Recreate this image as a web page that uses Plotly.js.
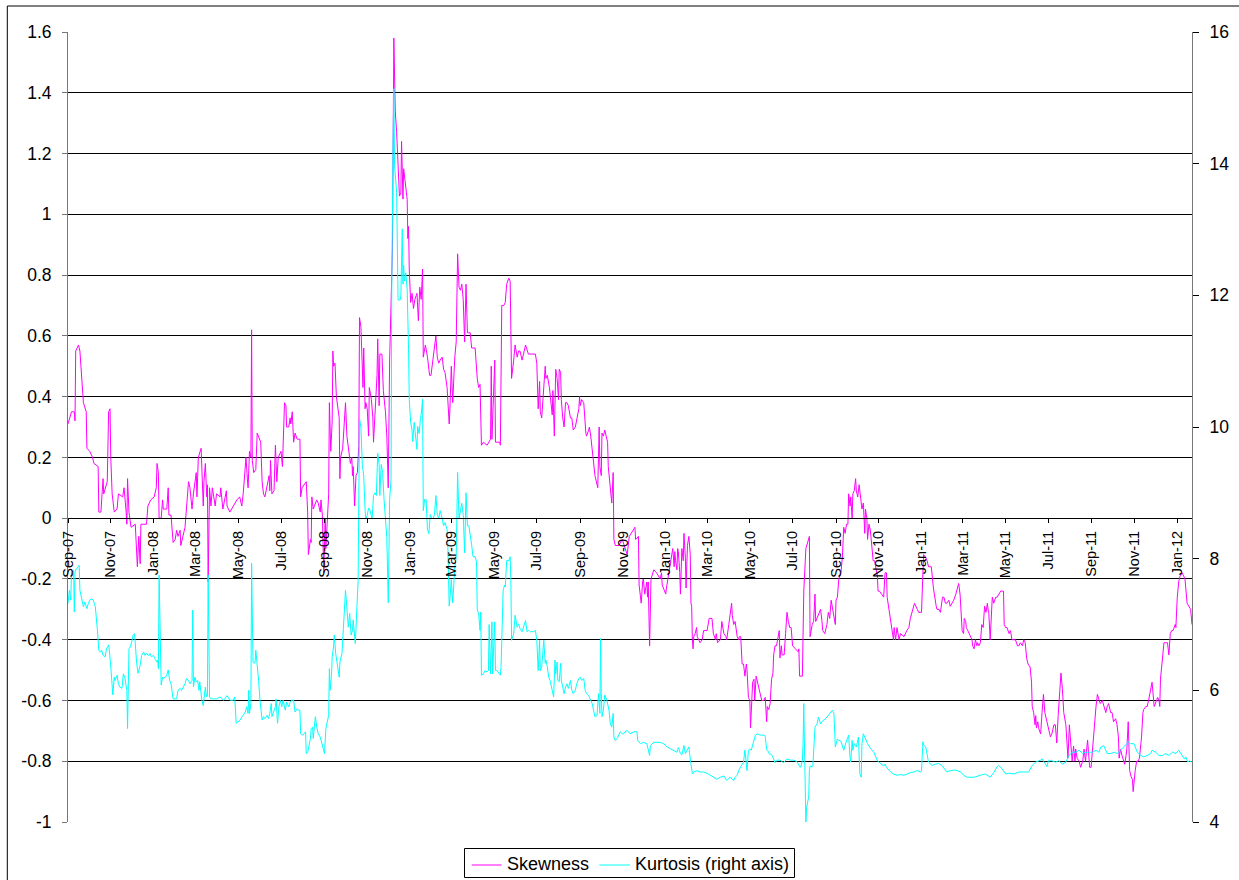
<!DOCTYPE html>
<html>
<head>
<meta charset="utf-8">
<script src="https://cdn.plot.ly/plotly-3.0.1.min.js"></script>
<style>html,body{margin:0;padding:0;background:#fff;}#chart{width:1239px;height:880px;}</style>
</head>
<body>
<div id="chart"></div>
<script>
// Day offsets counted from 2007-09-01
const skewDays = [0,5,9,10,11,15,17,20,22,26,27,31,35,37,43,44,47,50,51,56,58,60,61,63,66,70,72,78,80,83,84,85,87,90,96,99,101,103,104,112,114,118,123,126,127,129,130,133,135,136,141,143,144,147,148,150,153,155,157,160,161,165,167,168,170,172,174,177,179,181,183,184,186,190,191,193,194,196,198,199,200,202,204,206,210,212,217,218,221,226,227,231,236,241,245,248,250,253,254,256,257,259,261,262,263,265,268,270,273,275,277,279,281,284,287,288,289,291,294,296,298,300,304,306,307,309,311,312,315,317,318,320,322,324,327,331,332,334,340,342,343,346,347,348,350,355,357,360,361,363,365,367,368,370,372,373,375,377,378,379,381,383,387,388,389,392,394,396,398,400,403,405,406,407,409,411,413,415,416,418,421,422,424,425,427,429,430,433,435,436,438,441,442,444,445,448,450,453,455,456,457,459,460,463,465,467,469,471,473,475,476,478,479,481,484,485,486,487,489,491,493,495,498,500,502,504,506,507,510,513,516,518,520,523,525,527,529,531,534,536,538,541,542,544,545,547,549,551,552,554,556,558,560,561,562,564,566,568,570,572,574,576,581,584,586,588,589,590,593,598,603,604,605,609,610,616,617,619,622,624,626,629,631,633,636,638,641,643,645,648,650,653,657,664,667,669,671,673,674,676,679,681,682,684,687,689,691,692,694,696,698,700,701,703,704,706,708,710,712,714,717,719,721,724,726,729,730,731,733,736,739,740,743,744,746,749,752,755,756,758,759,761,762,764,766,768,770,771,774,776,778,779,781,786,791,798,801,809,810,814,815,818,820,821,823,826,827,828,830,831,832,836,840,845,847,848,853,854,856,858,860,863,865,866,867,869,870,871,873,874,876,878,879,881,882,884,886,888,889,890,891,892,893,895,897,898,900,902,905,907,912,913,915,919,921,924,925,927,931,933,934,936,939,940,943,945,947,948,950,952,955,957,958,960,962,964,966,968,969,971,973,974,977,979,980,982,984,986,988,990,993,995,997,998,1000,1002,1004,1006,1007,1009,1011,1013,1015,1016,1018,1019,1022,1024,1026,1028,1030,1032,1034,1038,1042,1043,1044,1048,1049,1050,1053,1057,1058,1059,1062,1064,1066,1067,1071,1074,1076,1077,1080,1083,1085,1087,1089,1091,1095,1096,1098,1100,1102,1103,1105,1107,1109,1111,1113,1114,1116,1117,1119,1120,1122,1124,1125,1127,1129,1131,1133,1135,1137,1138,1140,1141,1143,1145,1147,1149,1151,1153,1155,1156,1158,1161,1164,1166,1168,1169,1171,1174,1176,1178,1179,1181,1183,1186,1188,1193,1197,1200,1202,1205,1208,1212,1214,1217,1218,1220,1221,1224,1226,1228,1232,1235,1237,1239,1240,1243,1245,1248,1250,1252,1254,1257,1259,1262,1264,1267,1269,1271,1273,1275,1276,1278,1279,1281,1282,1284,1286,1288,1290,1291,1293,1295,1297,1298,1300,1302,1304,1306,1308,1310,1312,1313,1314,1316,1318,1319,1321,1324,1326,1328,1331,1333,1335,1336,1338,1340,1343,1345,1347,1350,1352,1355,1357,1359,1362,1364,1366,1368,1370,1373,1375,1376,1378,1380,1381,1382,1384,1385,1388,1390,1391,1392,1394,1395,1397,1400,1402,1404,1407,1409,1411,1413,1415,1417,1419,1421,1424,1425,1427,1429,1431,1433,1435,1437,1438,1440,1443,1445,1448,1450,1452,1455,1456,1458,1460,1462,1464,1467,1469,1471,1473,1476,1478,1481,1483,1485,1488,1490,1492,1495,1497,1499,1500,1502,1504,1506,1508,1510,1511,1513,1514,1515,1517,1519,1520,1522,1523,1525,1527,1529,1531,1532,1534,1535,1538,1540,1542,1545,1547,1550,1552,1555,1557,1558,1559,1562,1564,1566,1569,1571,1573,1575,1577,1580,1581,1583,1585,1587,1590,1592,1594,1597,1599,1602,1604];

const skewValues = [.31,.35,.35,.32,.55,.57,.55,.46,.38,.35,.23,.22,.2,.18,.17,.02,.02,.13,.08,.12,.35,.36,.2,.08,.02,.03,.08,.07,.1,.02,-.02,.13,.02,-.03,-.02,-.16,-.06,-.15,-.02,-.02,.04,.06,.07,.1,.18,.15,0,0,.06,.03,.03,.1,.01,.01,-.03,-.08,-.07,-.04,-.06,-.04,-.09,-.05,-.03,0,.08,.12,.1,.03,.08,.12,.15,.07,.2,.23,.17,.04,.12,.18,.07,.11,-.21,.1,.04,.1,.04,.08,.07,.1,.03,.09,.04,.02,.04,.06,.07,.04,.08,.17,.2,.13,.1,.22,.2,.62,.19,.15,.16,.28,.26,.25,.12,.08,.07,.11,.14,.09,.19,.08,.09,.24,.12,.2,.22,.17,.27,.38,.37,.3,.3,.33,.31,.35,.25,.28,.26,.26,.07,.1,.12,.02,-.12,-.07,-.08,.07,.03,.06,.05,.02,.06,.01,-.18,0,-.1,.02,.08,.38,.22,.32,.55,.5,.51,.4,.33,.13,.2,.23,.31,.38,.27,.24,.18,.2,.14,.17,.04,.14,.15,.24,.66,.63,.43,.56,.36,.38,.36,.27,.43,.39,.33,.25,.36,.47,.59,.37,.54,.54,.42,.35,.27,.21,.1,.52,.6,.89,1.58,1.34,1.27,1.14,1.06,1.07,1.24,1.05,1.15,1.11,1.05,.92,.96,.82,.71,.74,.69,.72,.74,.65,.76,.72,.82,.53,.57,.53,.47,.47,.51,.55,.6,.53,.51,.52,.53,.49,.48,.43,.38,.31,.36,.5,.38,.5,.53,.58,.87,.76,.75,.76,.77,.72,.58,.77,.61,.61,.61,.56,.56,.46,.43,.44,.34,.24,.25,.24,.26,.5,.26,.52,.25,.25,.24,.7,.7,.71,.77,.79,.78,.46,.52,.57,.53,.55,.55,.52,.54,.57,.54,.54,.54,.51,.36,.45,.35,.33,.44,.5,.46,.47,.43,.38,.34,.42,.27,.49,.46,.39,.49,.48,.39,.33,.3,.38,.38,.37,.33,.33,.29,.3,.32,.36,.4,.37,.39,.38,.28,.27,.29,.3,.27,.21,.14,.11,.1,.3,.17,.14,.28,.27,.29,.27,.25,.17,.1,.05,.15,-.07,-.09,-.09,-.07,-.12,-.06,-.03,-.07,-.06,-.22,-.28,-.21,-.2,-.25,-.21,-.26,-.21,-.42,-.23,-.2,-.17,-.18,-.2,-.18,-.22,-.25,-.23,-.2,-.16,-.13,-.1,-.16,-.11,-.14,-.17,-.1,-.11,-.18,-.25,-.1,-.14,-.05,-.13,-.23,-.09,-.06,-.12,-.28,-.29,-.4,-.43,-.39,-.38,-.36,-.39,-.4,-.41,-.4,-.37,-.37,-.35,-.33,-.33,-.38,-.4,-.38,-.41,-.4,-.34,-.36,-.38,-.39,-.4,-.35,-.31,-.28,-.32,-.35,-.34,-.39,-.4,-.39,-.39,-.48,-.48,-.52,-.48,-.5,-.59,-.6,-.69,-.54,-.53,-.6,-.52,-.54,-.56,-.59,-.6,-.6,-.59,-.67,-.62,-.63,-.61,-.53,-.51,-.45,-.42,-.42,-.39,-.37,-.46,-.42,-.45,-.45,-.38,-.31,-.34,-.36,-.36,-.42,-.43,-.44,-.43,-.52,-.52,-.4,-.24,-.1,-.07,-.06,-.39,-.35,-.34,-.25,-.34,-.32,-.3,-.34,-.37,-.38,-.35,-.31,-.33,-.27,-.3,-.35,-.27,-.26,-.2,-.18,-.18,-.13,-.03,-.05,-.02,-.02,.08,.04,.07,0,.08,.09,.13,.09,.07,.11,.06,.03,.05,-.05,.03,0,-.07,-.02,-.04,-.1,-.14,-.14,-.16,-.19,-.24,-.24,-.25,-.26,-.18,-.18,-.26,-.29,-.33,-.37,-.4,-.36,-.4,-.36,-.4,-.38,-.39,-.37,-.36,-.33,-.3,-.28,-.3,-.31,-.31,-.31,-.18,-.12,-.13,-.14,-.16,-.16,-.23,-.27,-.29,-.3,-.3,-.31,-.26,-.26,-.28,-.28,-.27,-.29,-.28,-.27,-.25,-.23,-.215,-.25,-.33,-.37,-.38,-.33,-.34,-.36,-.37,-.38,-.39,-.4,-.42,-.43,-.4,-.42,-.41,-.42,-.41,-.35,-.36,-.29,-.31,-.28,-.3,-.31,-.4,-.31,-.26,-.28,-.26,-.26,-.25,-.24,-.24,-.24,-.35,-.36,-.36,-.38,-.37,-.4,-.4,-.4,-.42,-.42,-.41,-.42,-.4,-.41,-.46,-.48,-.49,-.54,-.62,-.64,-.68,-.65,-.69,-.67,-.69,-.71,-.64,-.58,-.58,-.64,-.65,-.66,-.7,-.72,-.71,-.68,-.68,-.74,-.65,-.56,-.51,-.56,-.64,-.68,-.72,-.79,-.68,-.73,-.8,-.75,-.8,-.76,-.79,-.8,-.82,-.8,-.76,-.8,-.73,-.76,-.82,-.82,-.76,-.69,-.62,-.58,-.6,-.61,-.6,-.62,-.64,-.62,-.61,-.64,-.64,-.67,-.66,-.68,-.72,-.79,-.76,-.78,-.8,-.81,-.78,-.76,-.67,-.8,-.83,-.85,-.86,-.9,-.84,-.83,-.8,-.8,-.79,-.74,-.72,-.64,-.63,-.62,-.62,-.6,-.57,-.54,-.62,-.61,-.59,-.6,-.62,-.53,-.46,-.41,-.41,-.41,-.45,-.38,-.37,-.37,-.35,-.36,-.26,-.21,-.19,-.18,-.19,-.2,-.28,-.29,-.3,-.35];

const kurtDays = [0,2,4,5,8,9,10,12,15,16,17,20,22,24,27,29,31,34,36,39,41,42,44,46,48,50,53,55,58,59,61,63,64,66,67,70,72,74,77,79,81,84,85,87,89,91,93,95,96,98,100,103,105,108,110,112,115,117,119,122,124,127,128,129,130,131,133,135,136,139,141,143,145,147,148,150,153,155,157,160,162,165,167,169,172,174,177,178,179,181,183,185,187,188,191,193,194,196,197,198,199,200,202,204,208,212,217,222,227,231,236,238,240,243,246,248,250,253,255,257,258,259,261,262,264,266,267,268,270,272,274,277,279,281,284,286,288,290,291,293,296,297,299,301,303,305,307,310,312,315,317,319,322,324,327,329,331,332,335,337,339,340,342,343,346,347,349,350,352,353,355,357,360,362,365,366,368,370,372,373,374,376,377,379,380,382,384,385,387,388,391,393,396,397,399,400,402,404,406,407,410,411,413,414,416,418,420,422,424,425,427,429,431,434,436,438,440,442,444,445,447,449,451,453,455,457,459,461,462,464,465,466,467,469,471,474,475,477,478,479,480,482,484,485,486,487,489,491,492,494,496,498,499,501,503,504,506,507,509,511,513,515,517,519,521,523,525,527,529,531,534,536,538,541,542,544,545,547,549,550,552,554,556,558,560,561,562,564,566,568,570,572,574,576,578,581,583,584,586,588,589,590,593,595,598,600,601,603,605,606,609,610,612,615,617,618,620,621,623,624,626,629,631,632,633,636,638,641,643,645,648,650,653,655,657,660,664,667,669,671,673,674,676,679,681,682,684,686,688,691,693,695,696,698,699,701,703,704,706,708,710,712,714,717,719,721,724,726,729,731,733,736,738,740,743,745,748,750,752,755,757,759,760,761,762,764,766,767,769,772,774,776,778,779,781,784,786,788,791,793,795,798,800,802,807,812,813,817,821,826,830,831,836,840,845,850,855,860,864,869,871,874,876,879,881,883,886,887,889,891,893,898,902,907,912,917,921,926,931,936,940,945,950,952,955,957,960,962,964,966,967,969,971,973,975,977,979,981,984,988,993,995,997,999,1001,1003,1005,1009,1012,1016,1021,1026,1031,1035,1040,1042,1045,1046,1048,1049,1050,1051,1053,1054,1056,1057,1058,1059,1062,1063,1066,1069,1071,1074,1077,1079,1082,1085,1088,1091,1093,1094,1095,1098,1100,1103,1107,1110,1114,1116,1117,1119,1120,1122,1125,1128,1130,1132,1133,1135,1137,1141,1145,1150,1155,1159,1164,1166,1168,1174,1178,1183,1188,1193,1197,1202,1207,1212,1217,1218,1220,1221,1224,1226,1228,1233,1238,1242,1247,1252,1254,1259,1266,1274,1278,1283,1293,1302,1309,1316,1321,1326,1328,1333,1338,1343,1350,1357,1364,1371,1376,1381,1388,1390,1395,1397,1399,1404,1409,1414,1419,1424,1428,1433,1438,1443,1448,1452,1457,1462,1467,1471,1474,1478,1483,1488,1493,1497,1502,1507,1511,1513,1516,1521,1526,1531,1535,1540,1545,1547,1552,1557,1562,1566,1571,1576,1581,1585,1588,1590,1593,1595,1598,1600,1604];

const kurtValues = [7.32,7.52,7.37,7.8,7.82,7.19,7.8,7.85,7.88,7.9,7.52,7.37,7.27,7.34,7.24,7.32,7.37,7.39,7.37,7.27,7.07,6.91,6.61,6.58,6.61,6.53,6.51,6.63,6.69,6.61,6.36,6.05,5.93,6.2,6.15,6.23,6.1,6.05,6.03,6.25,6.2,6.0,5.42,6.63,6.66,6.74,6.84,6.86,6.69,6.41,6.26,6.38,6.53,6.58,6.53,6.56,6.53,6.56,6.51,6.53,6.48,6.43,6.46,6.33,7.75,7.07,6.08,6.2,6.18,6.2,6.23,6.31,6.15,6.1,6.0,5.87,5.87,5.87,6.0,6.03,6.0,6.05,6.1,6.18,6.15,6.1,6.15,7.22,6.05,6.2,6.13,6.15,6.0,6.13,5.85,5.77,5.85,6.05,5.95,5.9,5.92,7.75,5.9,5.87,5.87,5.87,5.9,5.85,5.92,5.85,5.85,5.9,5.5,5.52,5.55,5.6,5.62,5.67,5.75,5.65,6.0,5.65,5.8,7.93,6.43,6.41,6.43,6.61,6.41,6.15,5.85,5.55,5.6,5.57,5.62,5.57,5.65,5.8,5.6,5.67,5.75,5.87,5.5,5.75,5.85,5.75,5.85,5.7,5.82,5.75,5.82,5.85,5.85,5.67,5.72,5.7,5.7,5.34,5.32,5.34,5.37,5.04,5.06,5.11,5.27,5.42,5.44,5.27,5.44,5.6,5.44,5.34,5.29,5.19,5.09,5.04,5.42,5.52,5.62,6.33,6.0,6.23,6.51,6.66,6.84,6.56,6.41,6.33,6.2,6.43,6.56,6.94,7.52,7.39,7.07,6.96,7.17,6.84,6.91,7.07,6.71,6.96,7.22,7.67,10.13,10.0,9.43,9.26,8.73,8.6,8.66,8.77,8.73,8.6,8.96,9.0,8.96,9.6,9.43,8.96,9.43,9.31,8.9,8.6,8.32,7.33,8.9,9.2,12.1,14.44,15.14,13.97,13.86,13.57,11.93,11.93,11.99,13.01,12.17,12.46,12.22,12.34,12.1,11.18,11.18,10.42,10.07,9.95,9.78,10.07,9.9,9.66,10.01,9.9,10.13,10.19,10.42,8.73,8.9,8.9,8.44,8.38,8.67,8.61,8.61,8.67,8.96,8.67,8.61,8.73,8.61,8.5,8.55,8.44,8.21,7.28,7.39,7.68,7.33,7.56,7.86,8.03,9.31,8.61,8.73,8.79,8.84,8.67,8.09,9.0,8.5,8.5,8.38,8.21,8.03,8.03,7.95,7.22,7.17,6.91,7.19,6.23,6.25,6.3,6.28,6.3,7.0,6.25,7.04,6.25,7.04,6.3,6.3,6.25,6.23,6.36,7.22,7.52,7.6,7.57,7.97,7.97,8.03,7.67,6.76,6.86,7.14,6.96,7.01,6.94,6.89,6.96,7.06,6.89,6.91,6.89,6.89,6.91,6.76,6.3,6.76,6.3,6.36,6.76,6.41,6.46,6.36,6.2,6.15,6.0,5.9,6.46,6.25,6.43,6.15,6.13,6.41,6.15,6.05,5.95,6.05,6.1,6.03,6.15,6.0,5.95,6.0,6.1,6.18,6.2,6.15,6.18,6.0,5.95,5.92,5.87,5.8,5.7,5.6,5.62,5.95,5.65,6.79,5.95,5.6,5.7,5.93,5.9,5.85,5.7,5.49,5.44,5.65,5.29,5.24,5.27,5.32,5.37,5.34,5.34,5.37,5.39,5.37,5.34,5.37,5.37,5.24,5.19,5.21,5.19,5.01,5.16,5.21,5.21,5.21,5.19,5.14,5.11,5.09,5.06,5.13,5.04,5.02,5.16,5.04,5.09,5.14,5.04,4.89,4.73,4.76,4.78,4.76,4.76,4.74,4.71,4.68,4.65,4.68,4.7,4.63,4.68,4.63,4.68,4.71,4.78,4.84,4.88,4.91,5.09,4.96,4.78,5.09,5.11,5.09,5.16,5.22,5.32,5.34,5.32,5.32,5.3,5.1,5.08,5.03,5.03,5.01,4.9,4.94,4.94,4.9,4.96,4.94,4.94,4.92,4.88,4.83,4.85,4.93,5.2,5.8,5.14,4.0,4.22,4.32,4.38,4.78,4.85,4.84,4.86,5.44,5.49,5.59,5.49,5.54,5.55,5.58,5.62,5.67,5.7,5.65,5.37,5.14,5.26,5.24,5.23,5.09,5.2,5.32,4.98,4.91,5.24,5.09,5.19,5.14,5.29,4.73,4.68,5.19,5.34,5.29,5.19,5.12,5.06,4.93,4.89,4.85,4.88,4.83,4.76,4.73,4.71,4.72,4.71,4.73,4.75,4.76,4.78,4.76,4.77,5.22,5.17,5.14,5.01,4.91,4.86,4.88,4.89,4.86,4.8,4.76,4.78,4.79,4.76,4.71,4.68,4.68,4.71,4.73,4.68,4.75,4.84,4.86,4.81,4.73,4.74,4.73,4.76,4.76,4.76,4.86,4.91,4.94,4.96,4.88,4.84,4.93,4.93,4.91,4.93,4.88,4.91,5.0,5.06,5.06,5.09,5.04,5.06,5.06,5.06,5.09,5.06,5.14,5.16,5.04,5.04,5.06,5.04,5.09,5.14,5.19,5.22,5.19,5.19,5.06,5.01,4.99,5.01,5.04,5.09,5.06,5.01,5.01,5.04,5.01,5.06,5.04,5.09,5.04,4.99,4.96,4.99,4.91,4.93,4.91];

const xTickDates = ['2007-09-01','2007-11-01','2008-01-01','2008-03-01','2008-05-01','2008-07-01','2008-09-01','2008-11-01','2009-01-01','2009-03-01','2009-05-01','2009-07-01','2009-09-01','2009-11-01','2010-01-01','2010-03-01','2010-05-01','2010-07-01','2010-09-01','2010-11-01','2011-01-01','2011-03-01','2011-05-01','2011-07-01','2011-09-01','2011-11-01','2012-01-01'];
const xTickLabels = ['Sep-07','Nov-07','Jan-08','Mar-08','May-08','Jul-08','Sep-08','Nov-08','Jan-09','Mar-09','May-09','Jul-09','Sep-09','Nov-09','Jan-10','Mar-10','May-10','Jul-10','Sep-10','Nov-10','Jan-11','Mar-11','May-11','Jul-11','Sep-11','Nov-11','Jan-12'];
const leftTicks = [-1,-0.8,-0.6,-0.4,-0.2,0,0.2,0.4,0.6,0.8,1,1.2,1.4,1.6];
const leftTickLabels = ['-1','-0.8','-0.6','-0.4','-0.2','0','0.2','0.4','0.6','0.8','1','1.2','1.4','1.6'];
const rightTicks = [4,6,8,10,12,14,16];
const rightTickLabels = ['4','6','8','10','12','14','16'];
const seriesNames = ['Skewness','Kurtosis (right axis)'];
const seriesColors = ['#FF00FF','#00FFFF'];

const base = Date.UTC(2007, 8, 1);
const toDate = d => new Date(base + d * 86400000).toISOString().slice(0, 10);

const FONT = 'Liberation Sans, Arial, Helvetica, sans-serif';

const traces = [
  {x: skewDays.map(toDate), y: skewValues, name: seriesNames[0], type: 'scatter', mode: 'lines',
   line: {color: seriesColors[0], width: 1}, yaxis: 'y'},
  {x: kurtDays.map(toDate), y: kurtValues, name: seriesNames[1], type: 'scatter', mode: 'lines',
   line: {color: seriesColors[1], width: 1}, yaxis: 'y2'}
];

// plot area: x 68..1192, y 32..822 (px) -> paper helpers for the hand-drawn legend box
const L = 68, W = 1124, B = 822, H = 790;
const px = X => (X - L) / W;
const py = Y => (B - Y) / H;

const legendShapes = [
  {type: 'rect', xref: 'paper', yref: 'paper', x0: px(464.5), x1: px(794.5), y0: py(848.5), y1: py(877.5),
   line: {color: '#000', width: 1}, fillcolor: '#fff'},
  {type: 'line', xref: 'paper', yref: 'paper', x0: px(471.7), x1: px(501.7), y0: py(865), y1: py(865),
   line: {color: seriesColors[0], width: 1}},
  {type: 'line', xref: 'paper', yref: 'paper', x0: px(599.3), x1: px(630), y0: py(865), y1: py(865),
   line: {color: seriesColors[1], width: 1}}
];
const legendLabels = [
  {xref: 'paper', yref: 'paper', x: px(504.5), y: py(863.5), xanchor: 'left', yanchor: 'middle', showarrow: false,
   text: seriesNames[0], font: {family: FONT, size: 18, color: '#000'}},
  {xref: 'paper', yref: 'paper', x: px(633), y: py(863.5), xanchor: 'left', yanchor: 'middle', showarrow: false,
   text: seriesNames[1], font: {family: FONT, size: 18, color: '#000'}}
];

const layout = {
  width: 1239, height: 880,
  margin: {l: 68, r: 47, t: 32, b: 58, pad: 0},
  paper_bgcolor: '#ffffff', plot_bgcolor: '#ffffff',
  font: {family: FONT, color: '#000', size: 17.5},
  showlegend: false,
  xaxis: {type: 'date', range: ['2007-09-01', '2012-01-22'], anchor: 'free', position: 0.3846,
          showgrid: false, zeroline: false, showline: true, linecolor: '#000', linewidth: 1,
          ticks: 'outside', ticklen: 4, tickcolor: '#000', tickwidth: 1,
          tickmode: 'array', tickvals: xTickDates, ticktext: xTickLabels, tickangle: -90,
          ticklabelstandoff: 2,
          tickfont: {family: FONT, size: 14.5, color: '#000'}},
  yaxis: {range: [-1, 1.6], tickmode: 'array', tickvals: leftTicks, ticktext: leftTickLabels,
          showgrid: true, gridcolor: '#000', gridwidth: 1, zeroline: false,
          showline: true, linecolor: '#777', linewidth: 1,
          ticks: 'outside', ticklen: 5, tickcolor: '#777', ticklabelstandoff: 7,
          tickfont: {family: FONT, size: 17.5, color: '#000'}},
  yaxis2: {overlaying: 'y', side: 'right', range: [4, 16], tickmode: 'array', tickvals: rightTicks, ticktext: rightTickLabels,
           showgrid: false, zeroline: false, showline: true, linecolor: '#777', linewidth: 1,
           ticks: 'outside', ticklen: 6, tickcolor: '#000', ticklabelstandoff: 7,
           tickfont: {family: FONT, size: 17.5, color: '#000'}},
  yaxis3: {overlaying: 'y', side: 'right', range: [4, 16], tickmode: 'array', tickvals: rightTicks,
           showticklabels: false, showgrid: false, zeroline: false, showline: false,
           ticks: 'inside', ticklen: 6, tickcolor: '#000'},
  shapes: [
    {type: 'line', xref: 'paper', yref: 'paper', x0: px(7.3), x1: px(7.3), y0: py(900), y1: py(6), line: {color: '#000', width: 1}},
    {type: 'line', xref: 'paper', yref: 'paper', x0: px(7.3), x1: px(1260), y0: py(6), y1: py(6), line: {color: '#000', width: 1}}
  ].concat(legendShapes),
  annotations: legendLabels
};

Plotly.newPlot('chart', traces, layout, {displayModeBar: false, staticPlot: true});
</script>
</body>
</html>
